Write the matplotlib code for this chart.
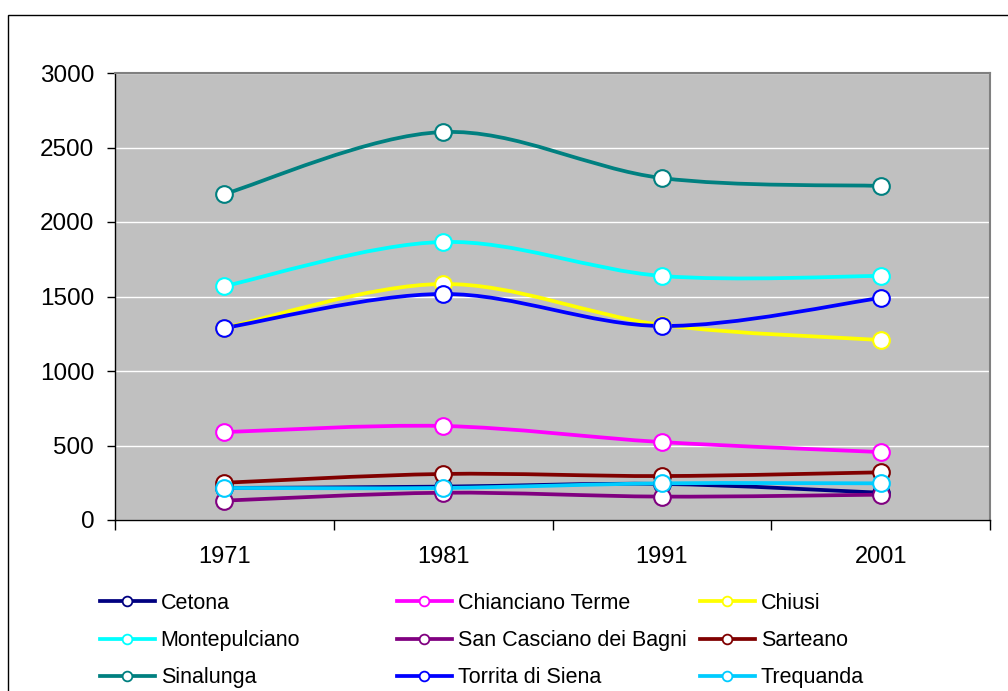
import matplotlib
matplotlib.use("Agg")
import matplotlib.pyplot as plt
import numpy as np
from matplotlib.path import Path
from matplotlib.patches import PathPatch, Rectangle
from matplotlib.lines import Line2D

plt.rcParams['font.family'] = ['Liberation Sans', 'DejaVu Sans']

years = ['1971', '1981', '1991', '2001']
series_names = ['Cetona', 'Chianciano Terme', 'Chiusi', 'Montepulciano',
                'San Casciano dei Bagni', 'Sarteano', 'Sinalunga',
                'Torrita di Siena', 'Trequanda']
cetona = [215, 224, 242, 183]
chianciano = [590, 631, 523, 456]
chiusi = [1290, 1584, 1309, 1208]
montepulciano = [1570, 1866, 1638, 1638]
san_casciano = [130, 183, 157, 170]
sarteano = [250, 309, 295, 320]
sinalunga = [2188, 2604, 2295, 2242]
torrita = [1289, 1517, 1302, 1490]
trequanda = [215, 215, 246, 246]
values = [cetona, chianciano, chiusi, montepulciano, san_casciano,
          sarteano, sinalunga, torrita, trequanda]
colors = ['#000080', '#FF00FF', '#FFFF00', '#00FFFF', '#800080',
          '#800000', '#008080', '#0000FF', '#00CCFF']

W, H = 1008, 691
fig = plt.figure(figsize=(W / 100, H / 100), dpi=100)
fig.patch.set_facecolor('white')

# outer chart border
fig.patches.append(Rectangle((8 / W, -0.05), 1.2, 1 - 15 / H + 0.05,
                             transform=fig.transFigure, fill=False,
                             edgecolor='#000000', linewidth=1.0))

ax = fig.add_axes([115 / W, 1 - 520 / H, (990 - 115) / W, (520 - 73) / H])
ax.set_facecolor('#C0C0C0')
ax.set_xlim(-0.5, 3.5)
ax.set_ylim(0, 3000)
ax.set_yticks(np.arange(0, 3001, 500))
ax.yaxis.grid(True, color='white', linewidth=1.0)
ax.set_axisbelow(True)
ax.set_xticks(np.arange(-0.5, 3.6, 1.0))
ax.set_xticklabels([])
ax.set_xticks(np.arange(4), minor=True)
ax.set_xticklabels(years, minor=True)
ax.tick_params(axis='x', which='major', direction='out', length=7, width=1, color='black')
ax.tick_params(axis='x', which='minor', length=0, pad=19, labelsize=17)
ax.tick_params(axis='y', direction='out', length=6, width=1, pad=9, labelsize=17.5)
for s in ['top', 'right']:
    ax.spines[s].set_color('#808080')
    ax.spines[s].set_linewidth(1.5)
for s in ['left', 'bottom']:
    ax.spines[s].set_color('black')
    ax.spines[s].set_linewidth(1.0)


def smooth_path(xs, ys):
    pts = np.column_stack([xs, ys]).astype(float)
    n = len(pts)
    verts = [pts[0]]
    codes = [Path.MOVETO]
    for i in range(n - 1):
        p_prev = pts[i - 1] if i > 0 else pts[i]
        p_next2 = pts[i + 2] if i + 2 < n else pts[i + 1]
        c1 = pts[i] + (pts[i + 1] - p_prev) / 6.0
        c2 = pts[i + 1] - (p_next2 - pts[i]) / 6.0
        verts += [c1, c2, pts[i + 1]]
        codes += [Path.CURVE4] * 3
    return Path(verts, codes)


x = np.arange(len(years))
handles = []
for name, vals, c in zip(series_names, values, colors):
    p = smooth_path(x, vals)
    ax.add_patch(PathPatch(p, fill=False, edgecolor=c, linewidth=2.7,
                           capstyle='round', joinstyle='round', zorder=3))
    ax.plot(x, vals, linestyle='none', marker='o', markersize=12,
            markerfacecolor='white', markeredgecolor=c, markeredgewidth=1.5,
            zorder=4, clip_on=False)
    handles.append(Line2D([], [], color=c, linewidth=2.7, marker='o',
                          markersize=7, markerfacecolor='white',
                          markeredgecolor=c, markeredgewidth=1.3))

col_x = [100, 397, 700]
for ci in range(3):
    idx = [ci, ci + 3, ci + 6]
    leg = fig.legend([handles[i] for i in idx], [series_names[i] for i in idx],
                     loc='upper left', bbox_to_anchor=(col_x[ci] / W, 1 - 593 / H),
                     frameon=False, borderpad=0, borderaxespad=0,
                     handlelength=2.55, handletextpad=0.27, labelspacing=0.75,
                     fontsize=15.5)

fig.savefig('out.png', dpi=100)
